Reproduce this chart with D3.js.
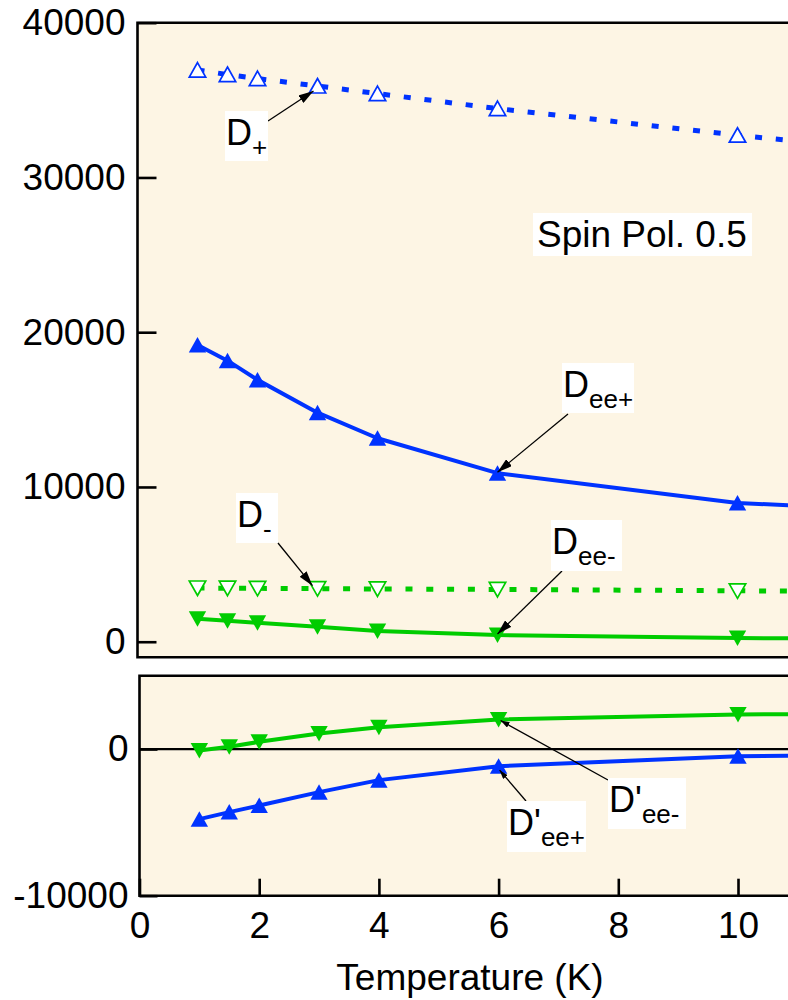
<!DOCTYPE html>
<html><head><meta charset="utf-8">
<script src="https://cdn.jsdelivr.net/npm/d3@7"></script>
<style>
body{margin:0;background:#fff}
text{font-family:"Liberation Sans",Arial,Helvetica,sans-serif}
</style>
</head><body>
<svg id="c" width="788" height="1000"></svg>
<script>
// ---- data ----
const temps      = [1, 1.5, 2, 3, 4, 6, 10, 12];
const dPlus      = [36940, 36650, 36390, 35910, 35420, 34450, 32730, 31950];
const dEePlus    = [19180, 18160, 16920, 14800, 13150, 10890, 8970, 8600];
const dMinus     = [3470, 3460, 3450, 3430, 3410, 3380, 3290, 3250];
const dEeMinus   = [1480, 1350, 1220, 970, 700, 430, 240, 200];
const dpEeMinus  = [-100, 150, 490, 1060, 1490, 2010, 2350, 2420];
const dpEePlus   = [-4780, -4300, -3850, -2940, -2120, -1170, -490, -400];
const xTicks       = [0, 2, 4, 6, 8, 10];
const yTicksTop    = [0, 10000, 20000, 30000, 40000];
const yTicksBottom = [-10000, 0];
const xTitle = "Temperature (K)";
const noteText = "Spin Pol. 0.5";

const BLUE = "#0033ff", GREEN = "#00cc00", BG = "#fdf5e4";
const svg = d3.select("#c");
const fmt = d => String(d);

// scales
const xTop = d3.scaleLinear().domain([0, 10]).range([137.5, 737.5]);
const xBot = d3.scaleLinear().domain([0, 10]).range([139.5, 738]);
const yTop = d3.scaleLinear().domain([-1000, 40000]).range([657.2, 22.7]);
const yBot = d3.scaleLinear().domain([-10000, 5000]).range([895.7, 675.7]);

// defs: arrowheads
const defs = svg.append("defs");
[["big", 15, 4.5], ["small", 9, 3]].forEach(([id, l, w]) => {
  defs.append("marker").attr("id", "ah-" + id)
    .attr("markerUnits", "userSpaceOnUse").attr("orient", "auto")
    .attr("viewBox", `${-l} ${-w} ${l} ${2 * w}`)
    .attr("refX", 0).attr("refY", 0)
    .attr("markerWidth", l).attr("markerHeight", 2 * w)
    .append("path").attr("d", `M0,0L${-l},${-w}L${-l},${w}Z`).attr("fill", "#000");
});

// panel backgrounds
svg.append("rect").attr("x", xTop(0)).attr("y", yTop(40000))
  .attr("width", 800 - xTop(0)).attr("height", yTop(-1000) - yTop(40000)).attr("fill", BG);
svg.append("rect").attr("x", xBot(0)).attr("y", yBot(5000))
  .attr("width", 800 - xBot(0)).attr("height", yBot(-10000) - yBot(5000)).attr("fill", BG);

// zero line bottom panel
svg.append("line").attr("x1", xBot(0)).attr("x2", 800)
  .attr("y1", yBot(0)).attr("y2", yBot(0)).attr("stroke", "#000").attr("stroke-width", 2.2);

function drawSeries(vals, xs, ys, color, dashed, shape, filled) {
  const line = d3.line().x((d, i) => xs(temps[i])).y(d => ys(d)).curve(d3.curveLinear);
  svg.append("path").attr("d", line(vals)).attr("fill", "none")
    .attr("stroke", color).attr("stroke-width", dashed ? 5 : 4)
    .attr("stroke-linejoin", "round")
    .attr("stroke-dasharray", dashed ? "7 13.8" : null);
  const up = filled ? "M0,-8L8.7,7.5L-8.7,7.5Z" : "M0,-7.5L8.2,7L-8.2,7Z";
  const dn = filled ? "M0,8L8.7,-7.5L-8.7,-7.5Z" : "M0,7.5L8.2,-7L-8.2,-7Z";
  svg.append("g").selectAll("path").data(vals).join("path")
    .attr("transform", (d, i) => `translate(${xs(temps[i])},${ys(d)})`)
    .attr("d", shape === "up" ? up : dn)
    .attr("fill", filled ? color : "#fff")
    .attr("stroke", filled ? "none" : color).attr("stroke-width", 1.7);
}

drawSeries(dPlus, xTop, yTop, BLUE, true, "up", false);
drawSeries(dMinus, xTop, yTop, GREEN, true, "down", false);
drawSeries(dEePlus, xTop, yTop, BLUE, false, "up", true);
drawSeries(dEeMinus, xTop, yTop, GREEN, false, "down", true);
drawSeries(dpEeMinus, xBot, yBot, GREEN, false, "down", true);
drawSeries(dpEePlus, xBot, yBot, BLUE, false, "up", true);

// frames
function frame(x0, y0, y1) {
  svg.append("path").attr("d", `M800,${y0}H${x0}V${y1}H800`)
    .attr("fill", "none").attr("stroke", "#000").attr("stroke-width", 2.6);
}
frame(xTop(0), yTop(40000), yTop(-1000));
frame(xBot(0), yBot(5000), yBot(-10000));

function styleAxis(g) {
  g.select(".domain").remove();
  g.selectAll(".tick line").attr("stroke", "#000").attr("stroke-width", 2.6);
  g.selectAll(".tick text").attr("fill", "#000").attr("font-size", 37)
    .attr("font-family", '"Liberation Sans",Arial,sans-serif');
}
svg.append("g").attr("transform", `translate(${xTop(0)},0)`)
  .call(d3.axisLeft(yTop).tickValues(yTicksTop).tickFormat(fmt).tickSize(-19).tickPadding(12))
  .call(styleAxis);
svg.append("g").attr("transform", `translate(${xBot(0)},0)`)
  .call(d3.axisLeft(yBot).tickValues(yTicksBottom).tickFormat(fmt).tickSize(-18).tickPadding(11))
  .call(styleAxis);
svg.append("g").attr("transform", `translate(0,${yBot(-10000)})`)
  .call(d3.axisBottom(xBot).tickValues(xTicks).tickFormat(fmt).tickSize(-17).tickPadding(16))
  .call(styleAxis);

// axis title
svg.append("text").attr("x", 470).attr("y", 990).attr("text-anchor", "middle")
  .attr("font-size", 37).attr("fill", "#000").text(xTitle);

// spin pol note
svg.append("rect").attr("x", 533).attr("y", 213).attr("width", 219).attr("height", 43).attr("fill", "#fff");
svg.append("text").attr("x", 537).attr("y", 247).attr("font-size", 37).attr("fill", "#000").text(noteText);

// annotations
const notes = [
  {main: "D",  sub: "+",   box: [225, 111, 43, 50], tail: [268, 121], xs: xTop, ys: yTop, vals: dPlus,     idx: 3, off: [-4, 5],  head: "big"},
  {main: "D",  sub: "ee+", box: [562, 363, 72, 50], tail: [568, 414], xs: xTop, ys: yTop, vals: dEePlus,   idx: 5, off: [0, -1],  head: "big"},
  {main: "D",  sub: "-",   box: [236, 493, 42, 50], tail: [278, 543], xs: xTop, ys: yTop, vals: dMinus,    idx: 3, off: [-5, -3], head: "big"},
  {main: "D",  sub: "ee-", box: [551, 520, 71, 51], tail: [562, 571], xs: xTop, ys: yTop, vals: dEeMinus,  idx: 5, off: [0, -1],  head: "big"},
  {main: "D'", sub: "ee+", box: [507, 801, 79, 51], tail: [526, 801], xs: xBot, ys: yBot, vals: dpEePlus,  idx: 5, off: [1, 4],   head: "small"},
  {main: "D'", sub: "ee-", box: [608, 778, 78, 51], tail: [608, 780], xs: xBot, ys: yBot, vals: dpEeMinus, idx: 5, off: [2, 1],   head: "small"}
];
notes.forEach(n => {
  const tx = n.xs(temps[n.idx]) + n.off[0], ty = n.ys(n.vals[n.idx]) + n.off[1];
  svg.append("line").attr("x1", n.tail[0]).attr("y1", n.tail[1]).attr("x2", tx).attr("y2", ty)
    .attr("stroke", "#000").attr("stroke-width", 1.3).attr("marker-end", `url(#ah-${n.head})`);
  svg.append("rect").attr("x", n.box[0]).attr("y", n.box[1]).attr("width", n.box[2]).attr("height", n.box[3]).attr("fill", "#fff");
  const t = svg.append("text").attr("x", n.box[0] + 1).attr("y", n.box[1] + 34).attr("font-size", 36).attr("fill", "#000");
  t.append("tspan").text(n.main);
  t.append("tspan").attr("font-size", 26).attr("dy", 11).text(n.sub);
});
</script>
</body></html>
